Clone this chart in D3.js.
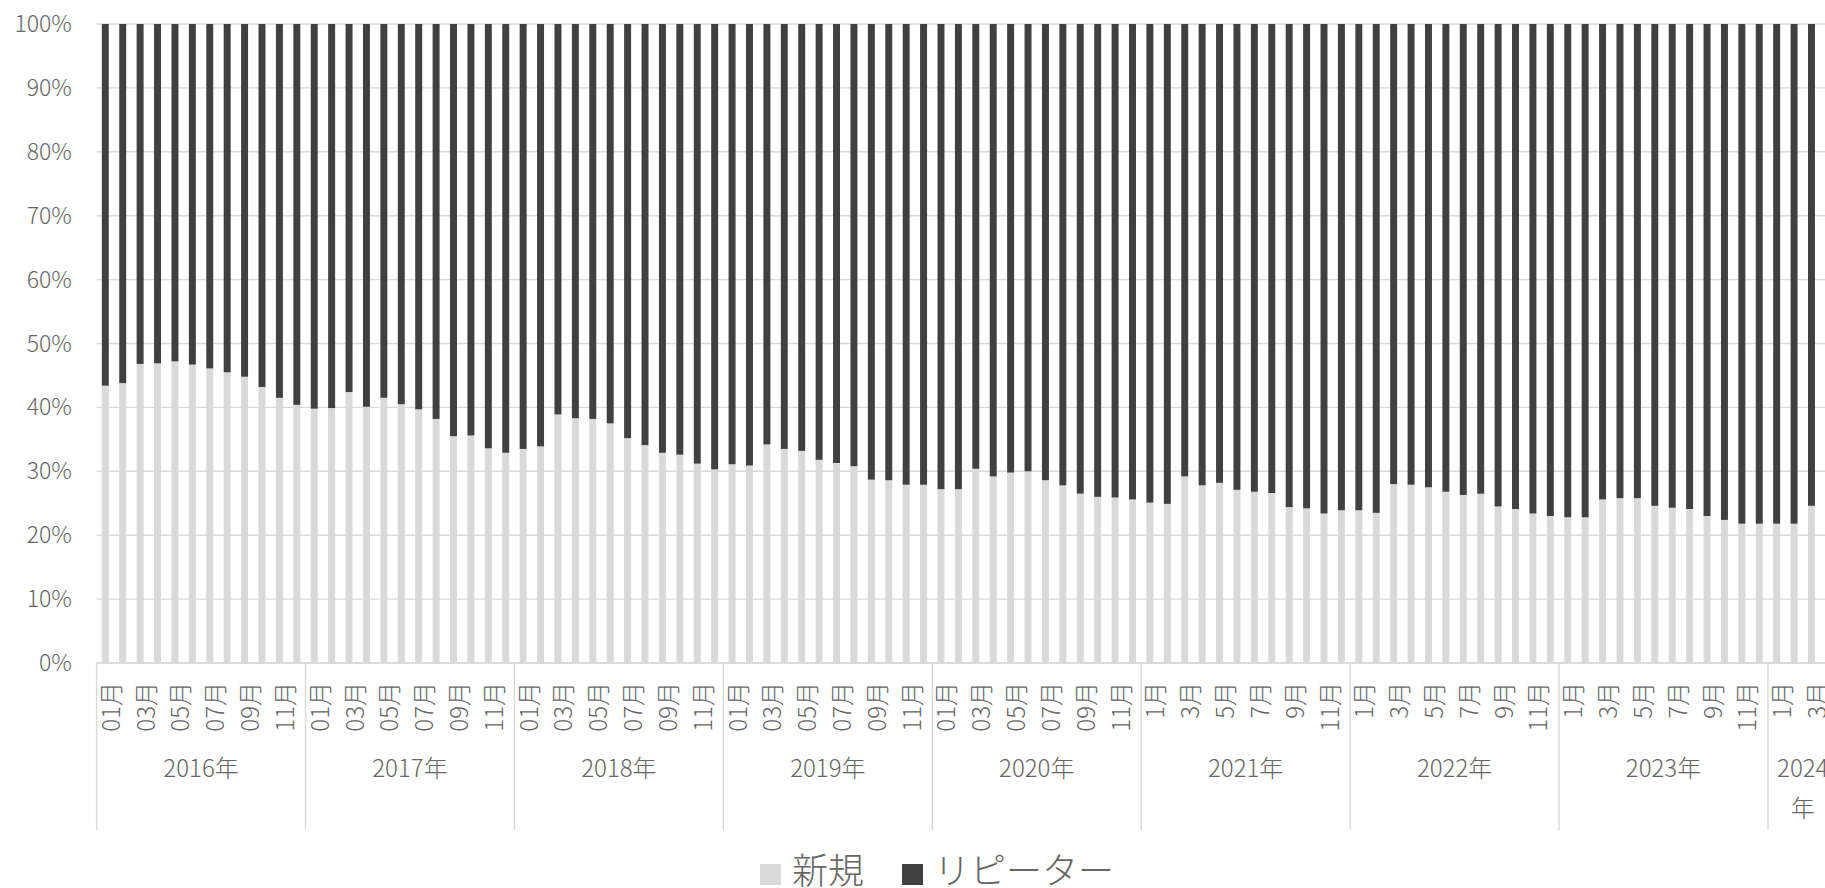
<!DOCTYPE html>
<html>
<head>
<meta charset="utf-8">
<script src="https://cdn.jsdelivr.net/npm/d3@7"></script>
<style>
  body { margin: 0; background: #ffffff; }
  svg { display: block; }
  text { font-family: "Noto Sans CJK JP", "Noto Sans", sans-serif; font-weight: 300; fill: #666666; }
</style>
</head>
<body>
<svg id="chart" width="1825" height="888"></svg>
<script>
// ---------------- data ----------------
const years = ["2016年", "2017年", "2018年", "2019年", "2020年", "2021年", "2022年", "2023年", "2024年"];
const yearNumbers = [2016, 2017, 2018, 2019, 2020, 2021, 2022, 2023, 2024];
const monthLabelsPadded = ["01月", "02月", "03月", "04月", "05月", "06月", "07月", "08月", "09月", "10月", "11月", "12月"];
const monthLabelsPlain = ["1月", "2月", "3月", "4月", "5月", "6月", "7月", "8月", "9月", "10月", "11月", "12月"];
// months on the axis per year (2024 continues past the visible right edge)
const monthsPerYear = [12, 12, 12, 12, 12, 12, 12, 12, 4];

// 新規 share (%) per month, 2016-01 .. 2024-03
const newShare = [
  43.4, 43.8, 46.8, 46.9, 47.2, 46.7, 46.1, 45.5, 44.8, 43.2, 41.5, 40.4,
  39.8, 39.9, 42.4, 40.1, 41.5, 40.5, 39.7, 38.2, 35.5, 35.6, 33.6, 32.9,
  33.5, 33.9, 38.9, 38.3, 38.2, 37.5, 35.2, 34.1, 32.9, 32.6, 31.2, 30.3,
  31.1, 30.9, 34.2, 33.5, 33.2, 31.8, 31.3, 30.8, 28.7, 28.6, 27.9, 27.9,
  27.2, 27.2, 30.4, 29.2, 29.8, 30.0, 28.6, 27.8, 26.5, 26.0, 25.9, 25.6,
  25.1, 24.9, 29.2, 27.8, 28.2, 27.1, 26.8, 26.6, 24.4, 24.2, 23.4, 23.9,
  23.9, 23.5, 28.0, 27.9, 27.5, 26.8, 26.3, 26.5, 24.5, 24.1, 23.4, 23.0,
  22.8, 22.8, 25.6, 25.8, 25.8, 24.6, 24.3, 24.1, 23.0, 22.4, 21.8, 21.8,
  21.8, 21.8, 24.6
];
// リピーター share (%) = remainder of 100%
const repeaterShare = newShare.map(v => 100 - v);

const yTicks = [0, 10, 20, 30, 40, 50, 60, 70, 80, 90, 100];
const seriesNames = ["新規", "リピーター"];
const seriesColors = ["#D9D9D9", "#404040"];

// ---------------- categories ----------------
const categories = [];
yearNumbers.forEach((yr, yi) => {
  const labels = yr <= 2020 ? monthLabelsPadded : monthLabelsPlain;
  for (let m = 0; m < monthsPerYear[yi]; m++) {
    categories.push({ key: yr + "-" + (m + 1), year: yi, month: m, label: labels[m] });
  }
});

// ---------------- layout ----------------
const W = 1825, H = 888;
const plotLeft = 96.6, plotRight = 1837.6, plotTop = 24, plotBottom = 663;
const gridColor = "#D9D9D9";

const svg = d3.select("#chart");

const x = d3.scaleBand()
  .domain(categories.map(d => d.key))
  .range([plotLeft, plotRight])
  .paddingInner(0.6)
  .paddingOuter(0.3);

const y = d3.scaleLinear().domain([0, 100]).range([plotBottom, plotTop]);

const slotStart = key => x(key) - (x.step() - x.bandwidth()) / 2;

// gridlines
svg.append("g").selectAll("line")
  .data(yTicks)
  .join("line")
  .attr("x1", plotLeft).attr("x2", plotRight)
  .attr("y1", d => y(d)).attr("y2", d => y(d))
  .attr("stroke", gridColor).attr("stroke-width", 1.4);

// y axis labels
svg.append("g").selectAll("text")
  .data(yTicks)
  .join("text")
  .attr("x", 72)
  .attr("y", d => y(d) + 8)
  .attr("text-anchor", "end")
  .attr("font-size", 23)
  .text(d => d + "%");

// bars
const barData = newShare.map((v, i) => ({ key: categories[i].key, newV: v, repV: repeaterShare[i] }));

svg.append("g").selectAll("rect")
  .data(barData)
  .join("rect")
  .attr("x", d => x(d.key))
  .attr("width", x.bandwidth())
  .attr("y", d => y(d.newV))
  .attr("height", d => y(0) - y(d.newV))
  .attr("fill", seriesColors[0]);

svg.append("g").selectAll("rect")
  .data(barData)
  .join("rect")
  .attr("x", d => x(d.key))
  .attr("width", x.bandwidth())
  .attr("y", d => y(d.newV + d.repV))
  .attr("height", d => y(d.newV) - y(d.newV + d.repV))
  .attr("fill", seriesColors[1]);

// category axis baseline
svg.append("line")
  .attr("x1", plotLeft).attr("x2", plotRight)
  .attr("y1", y(0)).attr("y2", y(0))
  .attr("stroke", gridColor).attr("stroke-width", 1.4);

// year separators
const yearGroups = yearNumbers.map((yr, yi) => {
  const cats = categories.filter(c => c.year === yi);
  const x0 = slotStart(cats[0].key);
  const x1 = slotStart(cats[cats.length - 1].key) + x.step();
  return { label: years[yi], x0, x1 };
});

svg.append("g").selectAll("line")
  .data(yearGroups)
  .join("line")
  .attr("x1", d => d.x0).attr("x2", d => d.x0)
  .attr("y1", y(0)).attr("y2", 830)
  .attr("stroke", gridColor).attr("stroke-width", 1.4);

// month labels (every other month)
svg.append("g").selectAll("text")
  .data(categories.filter(c => c.month % 2 === 0))
  .join("text")
  .attr("transform", d => `translate(${x(d.key) + x.bandwidth() / 2 + 14.5},682) rotate(-90)`)
  .attr("text-anchor", "end")
  .attr("font-size", 24)
  .text(d => d.label);

// year labels (wrap when wider than the group)
const yearText = svg.append("g").selectAll("text")
  .data(yearGroups)
  .join("text")
  .attr("x", d => (d.x0 + d.x1) / 2)
  .attr("y", 777)
  .attr("text-anchor", "middle")
  .attr("font-size", 24)
  .text(d => d.label);

yearText.each(function(d) {
  const t = d3.select(this);
  if (this.getComputedTextLength() > (d.x1 - d.x0) - 4) {
    const head = d.label.slice(0, -1), tail = d.label.slice(-1);
    t.text(null);
    t.append("tspan").attr("x", (d.x0 + d.x1) / 2).attr("y", 777).text(head);
    t.append("tspan").attr("x", (d.x0 + d.x1) / 2).attr("y", 817).text(tail);
  }
});

// legend
const legend = svg.append("g").attr("transform", "translate(760,0)");
let lx = 0;
seriesNames.forEach((name, i) => {
  legend.append("rect")
    .attr("x", lx).attr("y", 864)
    .attr("width", 21).attr("height", 21)
    .attr("fill", seriesColors[i]);
  const t = legend.append("text")
    .attr("x", lx + 32).attr("y", 884)
    .attr("font-size", 36)
    .text(name);
  lx += 32 + t.node().getComputedTextLength() + 38;
});
</script>
</body>
</html>
